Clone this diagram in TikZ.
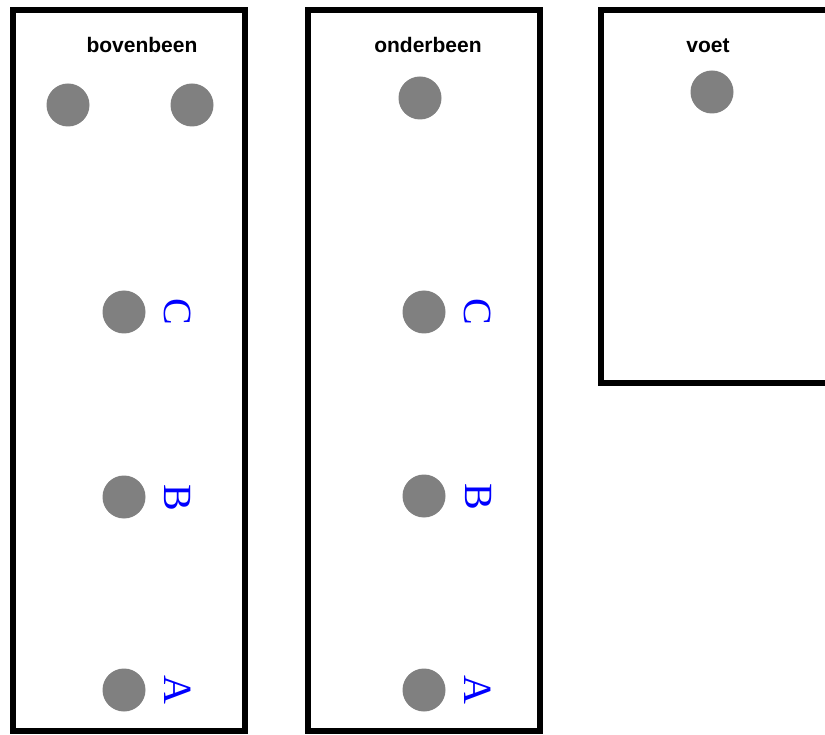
\documentclass[tikz,border=0pt]{standalone}
\usepackage{fontspec}
\setmainfont{Liberation Sans}
\newfontfamily\letterfont{Liberation Serif}
\begin{document}
\begin{tikzpicture}[x=1pt,y=-1pt,
  segbox/.style={draw=black,line width=6pt,fill=white},
  joint/.style={circle,fill=gray!100!white,fill=gray,inner sep=0pt,minimum size=43pt},
  title/.style={font=\bfseries\fontsize{21}{24}\selectfont,anchor=base,inner sep=0pt},
  mark label/.style={text=blue,font=\letterfont\fontsize{40}{44}\selectfont,rotate=-90,inner sep=0pt}]
\useasboundingbox (0,0) rectangle (825,735);
% boxes
\draw[segbox] (13,10) rectangle (245,731);
\draw[segbox] (308,10) rectangle (540,731);
\draw[segbox] (601,10) rectangle (840,383);
% titles
\node[title] (t1) at (142,53) {bovenbeen};
\node[title] (t2) at (428,53) {onderbeen};
\node[title] (t3) at (708,53) {voet};
% joints bovenbeen
\node[joint] (j1a) at (68,105) {};
\node[joint] (j1b) at (192,105) {};
\node[joint] (j1C) at (124,312) {};
\node[joint] (j1B) at (124,497) {};
\node[joint] (j1A) at (124,690) {};
% joints onderbeen
\node[joint] (j2a) at (420,98) {};
\node[joint] (j2C) at (424,312) {};
\node[joint] (j2B) at (424,496) {};
\node[joint] (j2A) at (424,690) {};
% joint voet
\node[joint] (j3a) at (712,92) {};
% labels
\node[mark label] (l1C) at (178,312) {C};
\node[mark label] (l1B) at (178,498) {B};
\node[mark label] (l1A) at (178,690) {A};
\node[mark label] (l2C) at (478,312) {C};
\node[mark label] (l2B) at (479,497) {B};
\node[mark label] (l2A) at (478,690) {A};
\end{tikzpicture}
\end{document}
